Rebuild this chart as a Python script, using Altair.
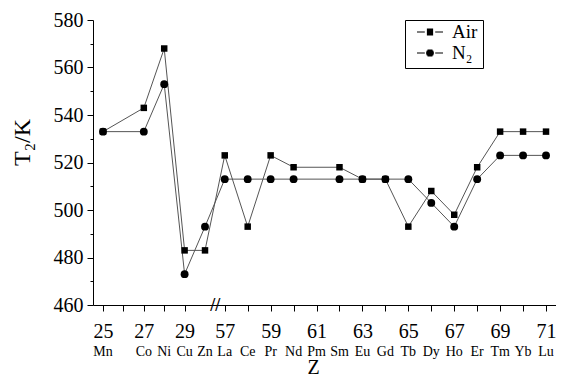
import altair as alt
import pandas as pd

# ---- data ----
elements = ["Mn", "Co", "Ni", "Cu", "Zn", "La", "Ce", "Pr", "Nd", "Pm",
            "Sm", "Eu", "Gd", "Tb", "Dy", "Ho", "Er", "Tm", "Yb", "Lu"]
z_numbers = [25, 27, 28, 29, 30, 57, 58, 59, 60, 61,
             62, 63, 64, 65, 66, 67, 68, 69, 70, 71]
air = [533, 543, 568, 483, 483, 523, 493, 523, 518, None,
       518, 513, 513, 493, 508, 498, 518, 533, 533, 533]
n2 = [533, 533, 553, 473, 493, 513, 513, 513, 513, None,
      513, 513, 513, 513, 503, 493, 513, 523, 523, 523]
series_names = ["Air", "N\u2082"]
y_ticks = [460, 480, 500, 520, 540, 560, 580]
y_minor = [470, 490, 510, 530, 550, 570]

# ---- broken x axis: transition metals compressed, lanthanides after a gap ----
SEG1 = 0.889      # width of one Z unit in the first segment
LA_POS = 5.305    # position of La (Z=57)


def zpos(z):
    return (z - 25) * SEG1 if z <= 30 else LA_POS + (z - 57)


rows = []
for el, z, a, n in zip(elements, z_numbers, air, n2):
    if a is not None:
        rows.append({"pos": zpos(z), "T": a, "series": series_names[0]})
    if n is not None:
        rows.append({"pos": zpos(z), "T": n, "series": series_names[1]})
df = pd.DataFrame(rows)

labels_df = pd.DataFrame({"pos": [zpos(z) for z in z_numbers], "el": elements})
break_df = pd.DataFrame({"pos": [(zpos(30) + LA_POS) / 2 + 0.02], "T": [460], "txt": ["//"]})

tick_z = list(range(25, 30)) + list(range(57, 72))
tick_pos = [zpos(z) for z in tick_z]
z_expr = f"(datum.value < 5 ? round(datum.value / {SEG1}) + 25 : round(datum.value - {LA_POS}) + 57)"
label_expr = f"{z_expr} % 2 == 1 ? '' + {z_expr} : ''"

FONT = "Liberation Serif"

x_scale = alt.Scale(domain=[-0.436, 19.74], nice=False, zero=False)
y_scale = alt.Scale(domain=[460, 580], nice=False, zero=False)

x_enc = alt.X(
    "pos:Q", scale=x_scale,
    axis=alt.Axis(orient="bottom", values=tick_pos, labelExpr=label_expr, title="Z",
                  grid=False, tickSize=6, labelFontSize=20, labelFont=FONT,
                  labelPadding=10, labelFlush=False, labelOverlap=False, labelBound=False,
                  titleFont=FONT, titleFontSize=20, titleFontWeight="normal",
                  titleX=220, titleY=68, titleBaseline="alphabetic",
                  domainColor="black", tickColor="black", labelColor="black",
                  titleColor="black"))
y_enc = alt.Y(
    "T:Q", scale=y_scale,
    axis=alt.Axis(orient="left", values=y_ticks, title="T\u2082/K", grid=False, tickSize=6,
                  labelFontSize=20, labelFont=FONT, labelPadding=4,
                  titleFont=FONT, titleFontSize=24, titleFontWeight="normal",
                  titleX=-64, titleY=122, titleAngle=-90, titleAlign="center",
                  titleBaseline="alphabetic",
                  domainColor="black", tickColor="black", labelColor="black",
                  titleColor="black"))

lines = alt.Chart(df).mark_line(color="#555555", strokeWidth=1).encode(
    x=x_enc, y=y_enc, detail="series:N")

points = alt.Chart(df).mark_point(filled=True, color="black", opacity=1).encode(
    x=alt.X("pos:Q", scale=x_scale, axis=None),
    y=alt.Y("T:Q", scale=y_scale, axis=None),
    shape=alt.Shape("series:N", scale=alt.Scale(domain=series_names, range=["square", "circle"]),
                    legend=None),
    size=alt.Size("series:N", scale=alt.Scale(domain=series_names, range=[42, 62]), legend=None))

# legend symbols "-■-" and "-●-" as custom paths (marker filled with hairlines)
STEP = 0.077
sq = "".join(f"M-0.24,{k * STEP:.3f}H0.24" for k in range(-3, 4))
ci = "".join(
    f"M{-((0.3 ** 2 - (k * STEP) ** 2) ** 0.5):.3f},{k * STEP:.3f}H{((0.3 ** 2 - (k * STEP) ** 2) ** 0.5):.3f}"
    for k in range(-3, 4))
sq_path = "M-1,0H-0.4M0.4,0H1" + sq
ci_path = "M-1,0H-0.4M0.4,0H1" + ci

legend_layer = alt.Chart(df).mark_point(filled=False, color="black", opacity=0).encode(
    x=alt.X("pos:Q", scale=x_scale, axis=None),
    y=alt.Y("T:Q", scale=y_scale, axis=None),
    shape=alt.Shape("series:N", title=None,
                    scale=alt.Scale(domain=series_names, range=[sq_path, ci_path]),
                    legend=alt.Legend(orient="none", legendX=312, legendY=0,
                                      symbolSize=676, symbolOpacity=1, symbolOffset=6,
                                      symbolStrokeColor="black",
                                      symbolStrokeWidth=1.2, labelFont=FONT, labelFontSize=19,
                                      labelColor="black", labelOffset=8, strokeColor="black",
                                      padding=5, rowPadding=2, clipHeight=14)))

minor_axis = alt.Chart(break_df).mark_text(
    text="//", font=FONT, fontSize=18, fontWeight="bold", color="black", baseline="middle",
    dy=1).encode(
    x=alt.X("pos:Q", scale=x_scale, axis=None),
    y=alt.Y("T:Q", scale=y_scale,
            axis=alt.Axis(orient="left", values=y_minor, labels=False, tickSize=3,
                          domain=False, grid=False, title=None, tickColor="black")))

elem_text = alt.Chart(labels_df).mark_text(
    font=FONT, fontSize=14, color="black", baseline="alphabetic").encode(
    x=alt.X("pos:Q", scale=x_scale, axis=None),
    y=alt.value(336),
    text="el:N")

chart = alt.layer(lines, points, legend_layer, minor_axis, elem_text).resolve_scale(
    shape="independent", size="independent").resolve_axis(
    x="independent", y="independent").properties(
    width=463, height=285,
    autosize=alt.AutoSizeParams(type="none"),
    padding={"left": 85, "top": 12, "right": 0, "bottom": 70},
    background="white",
).configure_view(stroke=None)

chart.save("out.html", embed_options={"renderer": "svg", "actions": False})
